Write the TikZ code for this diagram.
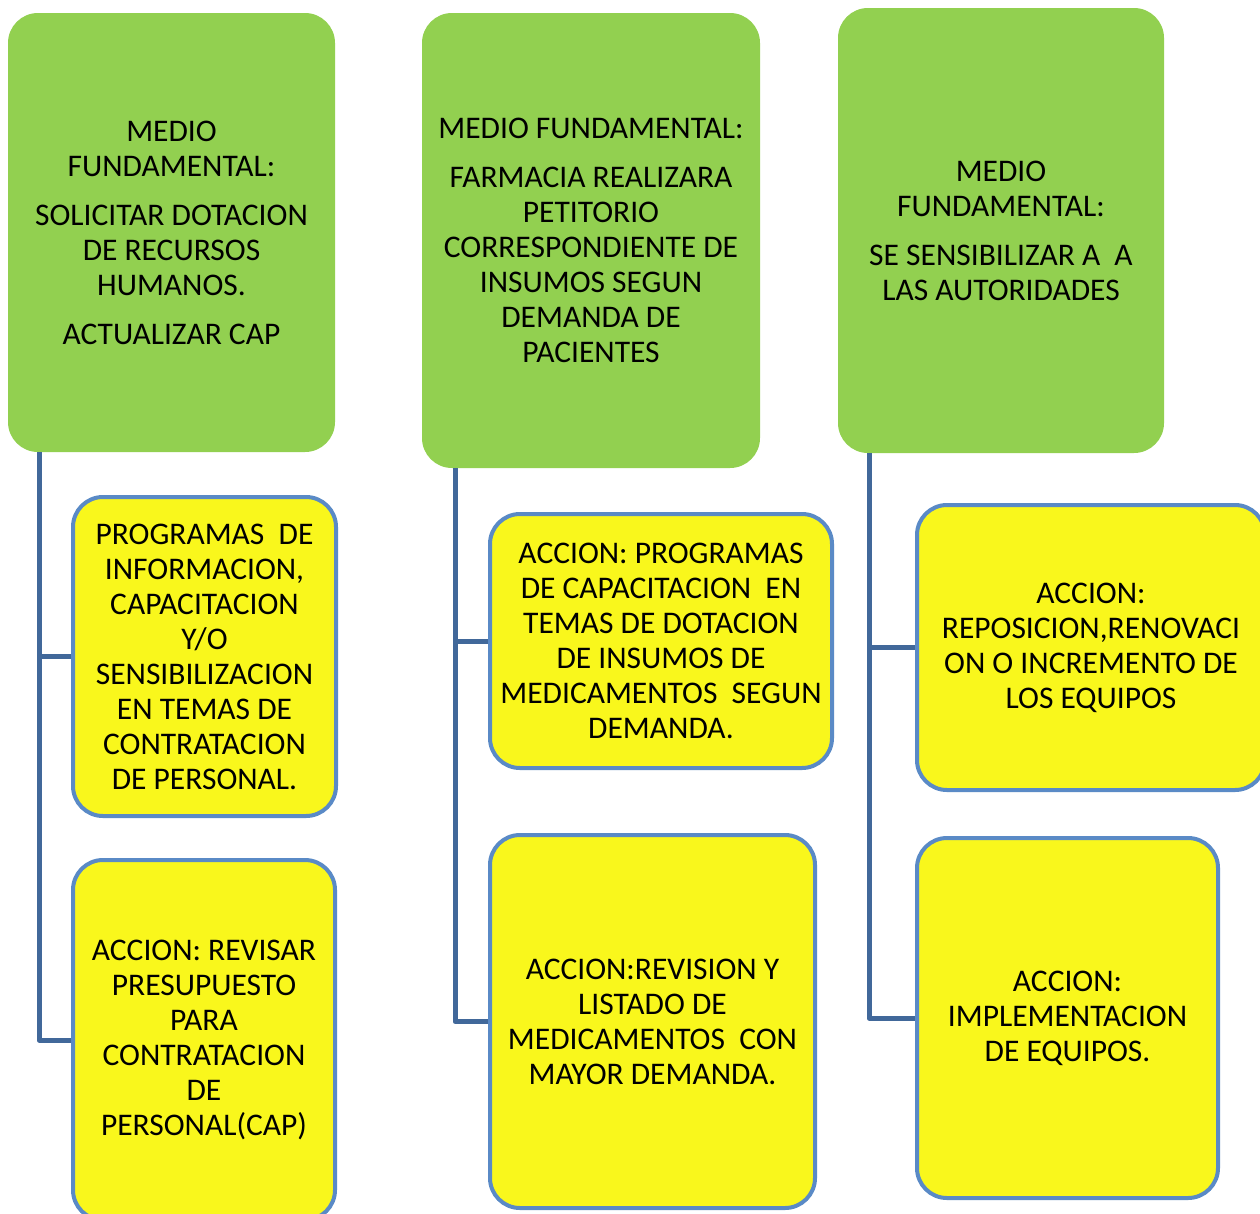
\documentclass[tikz,border=0pt]{standalone}
\usepackage{fontspec}
\setmainfont{Carlito}
\definecolor{gfill}{HTML}{92D050}
\definecolor{yfill}{HTML}{F9F71C}
\definecolor{yborder}{HTML}{5A8AC6}
\definecolor{connc}{HTML}{41689A}
\tikzset{
  medio/.style={rectangle, rounded corners=30pt, fill=gfill, draw=none, inner sep=0pt,
    align=center, font=\fontsize{31.5}{35}\selectfont},
  accion/.style={rectangle, rounded corners=30pt, fill=yfill, draw=yborder, line width=4pt,
    inner sep=0pt, align=center, font=\fontsize{31.5}{35}\selectfont},
  conn/.style={draw=connc, line width=5pt, line join=round}
}
\begin{document}
\begin{tikzpicture}[x=1pt,y=-1pt]
\clip (0,0) rectangle (1260,1213);
\fill[white] (0,0) rectangle (1260,1213);
% green boxes
\node[medio, minimum width=327pt, minimum height=439pt] (g1) at (171.5,232.5)
  {MEDIO\\FUNDAMENTAL:\\[14pt]SOLICITAR DOTACION\\DE RECURSOS\\HUMANOS.\\[14pt]ACTUALIZAR CAP};
\node[medio, minimum width=338pt, minimum height=455pt] (g2) at (591,240.5)
  {MEDIO FUNDAMENTAL:\\[14pt]FARMACIA REALIZARA\\PETITORIO\\CORRESPONDIENTE DE\\INSUMOS SEGUN\\DEMANDA DE\\PACIENTES};
\node[medio, minimum width=326pt, minimum height=445pt] (g3) at (1001,230.5)
  {MEDIO\\FUNDAMENTAL:\\[14pt]SE SENSIBILIZAR A\ \ A\\LAS AUTORIDADES};
% yellow boxes
\node[accion, minimum width=263pt, minimum height=319pt] (y1a) at (204.5,656.5)
  {PROGRAMAS\ \ DE\\INFORMACION,\\CAPACITACION\\Y/O\\SENSIBILIZACION\\EN TEMAS DE\\CONTRATACION\\DE PERSONAL.};
\node[accion, minimum width=262pt, minimum height=360pt] (y1b) at (204,1040)
  {ACCION: REVISAR\\PRESUPUESTO\\PARA\\CONTRATACION\\DE\\PERSONAL(CAP)};
\node[accion, minimum width=342pt, minimum height=254pt] (y2a) at (661,641)
  {ACCION: PROGRAMAS\\DE CAPACITACION\ \ EN\\TEMAS DE DOTACION\\DE INSUMOS DE\\MEDICAMENTOS\ \ SEGUN\\DEMANDA.};
\node[accion, minimum width=325pt, minimum height=373pt] (y2b) at (652.5,1021.5)
  {ACCION:REVISION Y\\LISTADO DE\\MEDICAMENTOS\ \ CON\\MAYOR DEMANDA.};
\node[accion, minimum width=348pt, minimum height=285pt] (y3a) at (1091,647.5)
  {ACCION:\\REPOSICION,RENOVACI\\ON O INCREMENTO DE\\LOS EQUIPOS};
\node[accion, minimum width=301pt, minimum height=360pt] (y3b) at (1067.5,1018)
  {ACCION:\\IMPLEMENTACION\\DE EQUIPOS.};
% connectors
\coordinate (t1) at (39,452);
\coordinate (t2) at (455,468);
\coordinate (t3) at (869,453);
\draw[conn] (t1) |- (y1b.west);
\draw[conn] (t1 |- y1a.west) -- (y1a.west);
\draw[conn] (t2) |- (y2b.west);
\draw[conn] (t2 |- y2a.west) -- (y2a.west);
\draw[conn] (t3) |- (y3b.west);
\draw[conn] (t3 |- y3a.west) -- (y3a.west);
\end{tikzpicture}
\end{document}
